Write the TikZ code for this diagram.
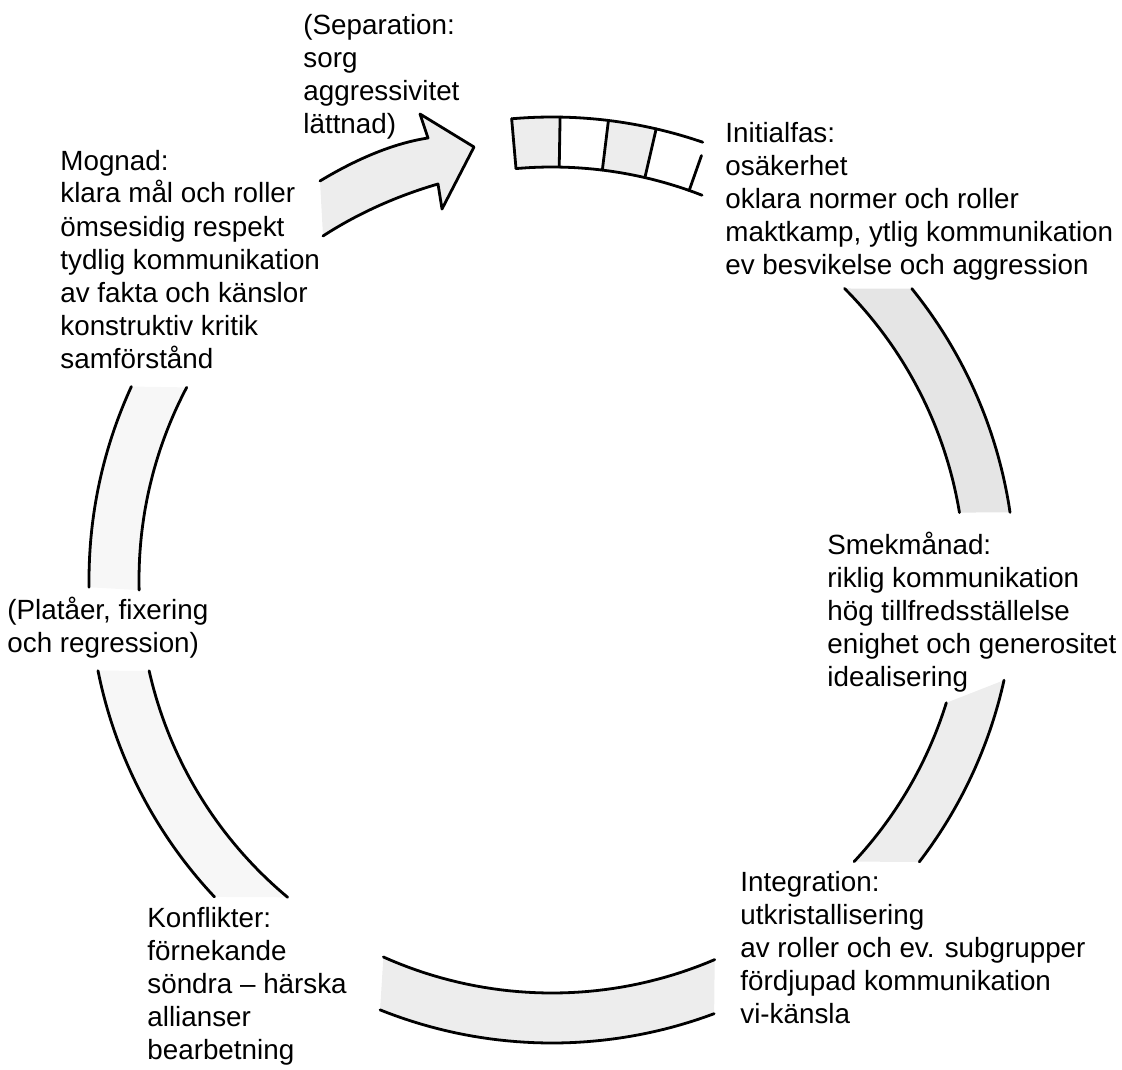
\documentclass[tikz,border=0pt]{standalone}
\usepackage{fontspec}
\setmainfont{Liberation Sans}
\begin{document}
\begin{tikzpicture}[x=0.5pt,y=-0.5pt,
  band/.style={line width=1.4pt, line cap=round, line join=round},
  shade1/.style={fill=black!10},
  shade2/.style={fill=black!7},
  shade3/.style={fill=black!3},
  txt/.style={anchor=base west, inner sep=0pt, align=left,
              font=\fontsize{13.9}{16.5}\selectfont},
]
\useasboundingbox (0,0) rectangle (1122,1069);
\def\cx{552}\def\cy{580}\def\ro{463}\def\ri{413}

% ---- fills of the ring segments ----
% upper right
\fill[shade1] plot[domain=39:8.4,samples=30,variable=\a] ({\cx+\ro*cos(\a)},{\cy-\ro*sin(\a)})
  -- plot[domain=9.4:44.9,samples=30,variable=\a] ({\cx+\ri*cos(\a)},{\cy-\ri*sin(\a)}) -- cycle;
% lower right
\fill[shade2] plot[domain=-12.5:-37.5,samples=30,variable=\a] ({\cx+\ro*cos(\a)},{\cy-\ro*sin(\a)})
  -- plot[domain=-43:-17.3,samples=30,variable=\a] ({\cx+\ri*cos(\a)},{\cy-\ri*sin(\a)}) -- cycle;
% bottom
\fill[shade2] plot[domain=-111.8:-69.5,samples=30,variable=\a] ({\cx+\ro*cos(\a)},{\cy-\ro*sin(\a)})
  -- plot[domain=-66.8:-114.1,samples=30,variable=\a] ({\cx+\ri*cos(\a)},{\cy-\ri*sin(\a)}) -- cycle;
% lower left
\fill[shade3] plot[domain=-168.7:-136.8,samples=30,variable=\a] ({\cx+\ro*cos(\a)},{\cy-\ro*sin(\a)})
  -- plot[domain=-129.8:-167.3,samples=30,variable=\a] ({\cx+\ri*cos(\a)},{\cy-\ri*sin(\a)}) -- cycle;
% upper left
\fill[shade3] plot[domain=155.3:180.9,samples=30,variable=\a] ({\cx+\ro*cos(\a)},{\cy-\ro*sin(\a)})
  -- plot[domain=181.4:152.2,samples=30,variable=\a] ({\cx+\ri*cos(\a)},{\cy-\ri*sin(\a)}) -- cycle;
% top box cells
\fill[shade2] plot[domain=95:89,samples=10,variable=\a] ({\cx+\ro*cos(\a)},{\cy-\ro*sin(\a)})
  -- plot[domain=89:95,samples=10,variable=\a] ({\cx+\ri*cos(\a)},{\cy-\ri*sin(\a)}) -- cycle;
\fill[shade2] plot[domain=83:77,samples=10,variable=\a] ({\cx+\ro*cos(\a)},{\cy-\ro*sin(\a)})
  -- plot[domain=77:83,samples=10,variable=\a] ({\cx+\ri*cos(\a)},{\cy-\ri*sin(\a)}) -- cycle;

% ---- outlines of the ring segments ----
\foreach \A/\B/\R in {39/8.4/\ro, 44.9/9.4/\ri,
                      -12.5/-37.5/\ro, -17.3/-43/\ri,
                      -111.8/-69.5/\ro, -114.1/-66.8/\ri,
                      -168.7/-136.8/\ro, -167.3/-129.8/\ri,
                      155.3/180.9/\ro, 152.2/181.4/\ri,
                      95/71/\ro, 95/68.7/\ri}
  \draw[band] plot[domain=\A:\B,samples=40,variable=\a] ({\cx+\R*cos(\a)},{\cy-\R*sin(\a)});
% cell dividers of the top box
\foreach \A in {95,89,83,77}
  \draw[band] ({\cx+\ro*cos(\A)},{\cy-\ro*sin(\A)}) -- ({\cx+\ri*cos(\A)},{\cy-\ri*sin(\A)});
\draw[band] ({\cx+450*cos(70.6)},{\cy-450*sin(70.6)}) -- ({\cx+\ri*cos(70.6)},{\cy-\ri*sin(70.6)});

% ---- big arrow ----
\path[band, draw, fill=black!7]
  (320,181) .. controls (358,158) and (395,143) .. (428,138)
  -- (420,114) -- (474,147) -- (442,209) -- (438,184)
  .. controls (400,195) and (360,212) .. (323,236);

% ---- texts (coordinates = baseline of the last line) ----
\node[txt] (sep) at (303,134) {(Separation:\\sorg\\aggressivitet\\lättnad)};
\node[txt] (mog) at (60,368) {Mognad:\\klara mål och roller\\ömsesidig respekt\\tydlig kommunikation\\av fakta och känslor\\konstruktiv kritik\\samförstånd};
\node[txt] (init) at (725,275) {Initialfas:\\osäkerhet\\oklara normer och roller\\maktkamp, ytlig kommunikation\\ev besvikelse och aggression};
\node[txt] (smek) at (827,686) {Smekmånad:\\riklig kommunikation\\hög tillfredsställelse\\enighet och generositet\\idealisering};
\node[txt] (plat) at (7,652) {(Platåer, fixering\\och regression)};
\node[txt] (konf) at (147,1059) {Konflikter:\\förnekande\\söndra – härska\\allianser\\bearbetning};
\node[txt] (integ) at (740,1023) {Integration:\\utkristallisering\\av roller och ev. subgrupper\\fördjupad kommunikation\\vi-känsla};
\end{tikzpicture}
\end{document}
